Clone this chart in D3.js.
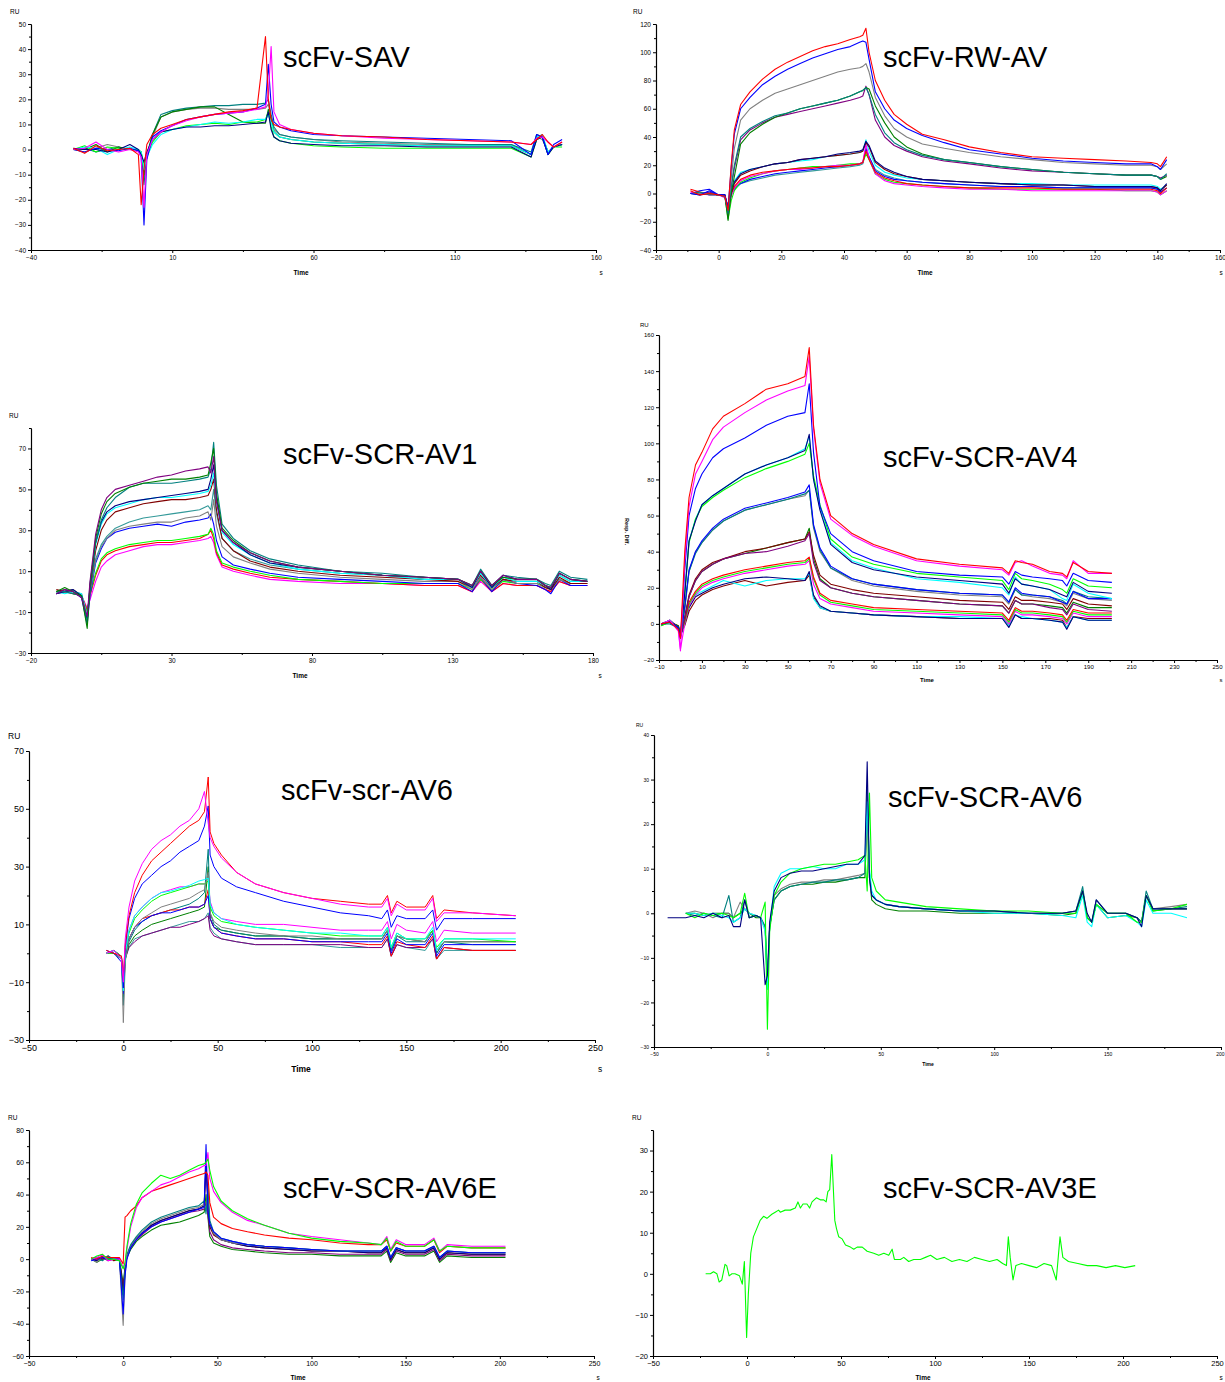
<!DOCTYPE html>
<html>
<head>
<meta charset="utf-8">
<script src="https://cdn.jsdelivr.net/npm/d3@7"></script>
<style>
  body { margin: 0; background: #fff; }
  text { font-family: Arial, "Liberation Sans", sans-serif; }
</style>
</head>
<body>
<svg id="chart" width="1225" height="1382"></svg>
<script>
var RED = "#ff0000", MAGENTA = "#ff00ff", BLUE = "#0000ff", NAVY = "#000080",
    CYAN = "#00ffff", LIME = "#00ff00", DKGREEN = "#008000", GRAY = "#808080",
    TEAL = "#008080", TEAL2 = "#339999", PURPLE = "#800080", MAROON = "#800000";

// ---------- scFv-SAV ----------
var savTime = [-25,-21,-17,-13,-9,-5,-2,-1,0,1,3,6,10,15,20,25,30,35,40,43,44,45,46,48,52,60,70,85,100,115,130,137,139,141,143,145,148];
var savRed     = [0.5,-1.5,1.5,-0.5,0,0.5,-2,-22,-8,2,6,8.5,10,12,13,14,15,15.5,16.5,45,20,12,10,9,8,6.5,5.5,5,4,3.5,3,2,4,6,3,1,3];
var savMagenta = [0,0.5,3,0,-1,0,-1,-3,-23,-2,4,7,9.5,11.5,13,14,14.5,15,16,17,22,41,15,10,8,6.5,5.5,4.5,4,3.5,3,2,4.5,5,3,1,3];
var savBlue    = [0,-1,0.5,0,-0.5,0.5,-0.5,-3,-30,-4,5,7.5,9.5,12,13,14,14.5,15,16.5,18,34,18,11,9,7.5,6,5.5,5,4.5,4,3.5,-2,6,5,-2,2,4];
var savNavy    = [0.5,0,0,-1,0,2,0,-2,-5,-1,4,7,8,9,9,9.5,9.5,10,10.5,11,15,8,5,3.5,2.5,2,1.5,1.5,1,1,1,-3,4,5,-2,1,2];
var savCyan    = [0,1,0.5,-2,0,1,0,-1,-8,-3,2,6,8,9,10,11,10.5,11,12,12,14,11,7,5,4,3,2.5,2,1.5,1.5,1.5,-2,5,6,-1,1,2];
var savLime    = [0,1.5,-1,1,0.5,0,0,-1,-6,-3,3,7,8,9.5,10,10.5,10,11,11,12,15,9,5,3.5,2.5,1.5,1,0.5,0.5,0.5,0.5,-3,4,5,-2,1,1];
var savDkGreen = [0,0,2,-1,1,0,0,-1,-10,-3,6,13,15,16,17,17,14,11,10.5,10.5,16,12,7,5,4,3,2.5,2,1.5,1.5,1.5,-2,5,5,-1,1,2];
var savGray    = [0,-1,0.5,2,1,0,0,-2,-12,-3,5,13,15,16,16.5,16.5,16,16,16,16.5,18,13,8,6,5,4,3,2.5,2,2,2,-2,5,4,-1,1,2];
var savTeal    = [0,0.5,-1,0,1,0,-0.5,-1,-14,-2,6,14,15.5,16.5,17,17.5,17.5,18,18,18.5,20,14,9,6,5,4,3.5,3,2.5,2,2,-1,6,5,-1,1,2];
var savXTicks = [-40,10,60,110,160], savXMinor = [-15,35,85,135];
var savYTicks = [-40,-30,-20,-10,0,10,20,30,40,50], savYMinor = [-35,-25,-15,-5,5,15,25,35,45];

// ---------- scFv-RW-AV ----------
var rwTime = [-9,-6,-3,0,2,3,4,5,7,10,14,18,22,26,30,34,38,42,45,46,47,48,50,53,56,60,65,72,80,90,100,110,120,130,138,140,141,143];
var rwRed     = [2,-1,0,-1,-2,-12,20,45,63,72,81,88,93,97,101,104,106,109,111,112,117,100,80,66,56,49,42,38,33,29,26,25,24,23,22,21,19,26];
var rwBlue    = [0,-1,2,-1,-1,-10,18,42,60,68,77,83,88,92,96,99,102,104,107,108,107,95,72,60,52,46,41,36,31,28,25,23,22,21,21,19,17,24];
var rwGray    = [0,0,0,-1,-2,-11,10,32,52,60,66,71,74,77,80,83,86,88,89,90,92,86,68,55,46,40,35,32,29,26,24,22,21,20,20,19,17,21];
var rwTeal    = [0,1,-1,-1,-2,-14,5,20,40,46,51,55,57,60,62,64,66,69,72,73,75,70,56,43,36,31,27,24,22,19,17,15,14,13,13,12,10,14];
var rwDkGreen = [0,0,0,-1,-2,-19,0,12,35,43,49,54,57,60,62,64,66,69,72,73,75,74,62,50,40,33,28,24,22,19,17,15,14,13,13,12,10,12];
var rwPurple  = [0,0,1,-1,-2,-15,4,18,38,45,50,54,56,58,60,62,64,66,68,69,76,70,52,40,34,30,26,23,21,18,16,15,14,13,13,12,11,13];
var rwNavy    = [0,-1,0,-1,-1,-13,2,8,14,17,19,21,22,24,25,26,28,29,30,31,37,34,23,18,15,12,10,9,8,7,6,6,5,5,5,4,2,7];
var rwMaroon  = [0,0,0,-1,-1,-14,0,7,13,16,19,21,22,24,25,26,27,28,29,30,36,33,22,17,14,12,10,9,8,7,6,6,5,5,5,4,2,6];
var rwCyan    = [0,0,1,-1,-2,-12,3,9,15,17,19,21,22,23,24,26,27,28,29,30,38,30,20,15,13,11,10,9,8,7,7,6,6,6,6,5,3,6];
var rwRedLow  = [3,1,0,-1,-2,-10,0,5,10,13,15,16,17,18,18,19,19,20,21,22,30,24,15,11,9,7,6,5,4,4,4,3,3,3,3,2,0,4];
var rwMagenta = [1,0,-1,-1,-3,-13,-2,4,9,12,14,16,17,17,18,19,20,20,21,22,35,25,14,9,7,6,5,4,3,3,2,2,2,2,2,1,-1,2];
var rwLime    = [0,0,0,-1,-2,-18,-5,2,8,11,14,16,17,18,19,19,20,21,21,22,28,24,14,10,8,7,6,5,4,3,3,3,3,2,2,1,-1,2];
var rwBlueLow = [0,2,3,-1,-2,-10,-1,3,7,10,12,14,15,16,17,18,19,20,21,22,32,26,16,12,10,9,8,7,6,5,5,4,4,4,4,3,1,4];
var rwTealLow = [0,0,0,-1,-2,-9,0,4,7,9,11,13,14,15,16,17,18,19,20,21,30,26,17,13,11,9,8,7,6,5,5,4,4,4,4,3,1,4];
var rwXTicks = [-20,0,20,40,60,80,100,120,140,160], rwXMinor = [-10,10,30,50,70,90,110,130,150];
var rwYTicks = [-40,-20,0,20,40,60,80,100,120], rwYMinor = [-30,-10,10,30,50,70,90,110];

// ---------- scFv-SCR-AV1 ----------
var av1Time = [-11,-8,-5,-2,0,1,3,5,7,10,15,20,25,30,35,40,43,44,45,46,48,52,58,65,75,90,105,120,132,137,140,144,148,153,160,163,165,168,172,178];
var av1Purple  = [-1,1,0,-3,-12,5,28,40,46,50,52,54,56,57,59,60,61,58,66,44,30,24,19,15,12,10,8,7,6,3,10,3,8,6,6,3,2,9,6,5];
var av1DkGreen = [0,2,0,-2,-18,3,26,38,44,48,51,53,54,55,55,56,57,63,70,48,31,25,19,15,12,10,8,7,6,3,10,3,7,6,6,3,2,9,6,5];
var av1Teal    = [0,0,-1,-2,-15,4,24,35,41,46,51,53,53,53,54,55,56,60,73,52,33,26,20,16,13,10,9,7,6,3,11,3,8,7,6,4,3,10,7,6];
var av1Navy    = [-1,0,1,-2,-14,2,24,34,39,42,44,45,46,47,48,49,50,55,62,46,30,24,18,14,12,10,8,7,6,2,10,2,8,6,6,3,1,9,6,5];
var av1Cyan    = [0,-1,0,-1,-12,2,23,33,38,41,43,45,46,46,47,48,49,52,58,44,29,23,18,14,11,9,8,6,6,2,9,2,7,5,5,3,2,8,5,5];
var av1Maroon  = [1,0,-1,-2,-13,1,20,30,35,39,41,43,44,45,45,46,47,50,55,40,26,20,15,12,10,8,7,6,5,2,8,2,6,5,5,2,1,7,4,4];
var av1Teal2   = [-1,0,1,-2,-14,0,16,23,27,31,34,36,37,38,39,40,42,40,50,38,26,20,16,13,11,9,8,6,6,2,9,2,7,6,6,3,2,8,5,5];
var av1Gray    = [0,1,0,-1,-13,0,15,22,26,30,32,33,34,34,36,37,39,35,45,32,22,17,14,11,9,7,6,5,5,1,7,1,6,4,4,2,1,6,4,4];
var av1Blue    = [-1,1,0,-3,-16,-2,14,21,26,29,31,32,33,32,34,35,36,38,33,25,17,13,11,9,7,6,5,4,4,0,7,0,6,4,3,1,-1,6,3,3];
var av1Lime    = [0,1,-1,-2,-10,-1,9,16,19,21,23,24,25,25,26,27,28,31,28,20,14,12,10,8,6,5,4,4,4,1,6,1,5,4,4,2,1,6,4,4];
var av1Red     = [0,0,1,-2,-9,-2,8,15,18,20,22,23,24,24,25,26,28,30,26,19,13,11,9,7,6,5,4,3,3,0,6,0,4,3,3,1,0,5,3,3];
var av1Magenta = [-1,0,0,-2,-8,-4,5,12,15,18,20,22,23,23,24,25,26,27,24,18,12,10,8,6,5,4,4,3,3,0,5,0,4,3,3,1,0,5,3,3];
var av1XTicks = [-20,30,80,130,180], av1XMinor = [5,55,105,155];
var av1YTicks = [-30,-10,10,30,50,70], av1YMinor = [-20,0,20,40,60,80];

// ---------- scFv-SCR-AV4 ----------
var av4Time = [-9,-5,-1,0,2,4,7,10,15,20,30,40,50,58,60,62,65,70,80,90,110,130,150,153,156,159,164,172,178,180,183,190,201];
var av4Red      = [0,1,-3,-8,40,70,88,95,108,115,122,130,133,137,153,110,80,60,50,44,36,33,31,28,35,34,33,29,28,26,34,29,28];
var av4Magenta  = [0,2,-4,-15,35,65,83,90,102,109,117,124,129,132,148,108,78,58,49,43,35,32,30,27,34,35,32,28,27,25,35,28,28];
var av4Blue     = [0,1,-2,-8,30,60,75,83,92,97,103,110,115,117,133,95,65,50,40,35,29,27,26,22,29,27,26,25,24,21,28,24,23];
var av4Cyan     = [0,2,-3,-7,18,46,58,66,71,75,83,88,92,97,104,80,64,45,35,31,25,23,20,16,26,22,21,19,14,13,22,17,14];
var av4Lime     = [-1,1,-2,-6,16,45,58,65,70,74,81,86,90,94,100,82,66,47,37,33,28,26,24,19,28,25,24,22,19,17,25,21,20];
var av4Navy     = [0,1,-2,-7,17,46,57,66,71,75,83,88,92,96,105,80,63,44,34,30,26,24,22,17,25,22,21,19,16,15,23,18,17];
var av4Blue2    = [0,1,-3,-8,10,30,40,46,53,58,64,67,70,73,77,55,42,32,25,22,19,17,16,12,20,17,16,15,12,11,18,14,14];
var av4Teal     = [0,0,-2,-6,8,29,39,45,52,57,63,66,69,72,74,54,41,31,25,22,19,17,16,12,19,16,16,15,13,11,18,15,14];
var av4Gray     = [-1,1,-2,-7,9,29,40,45,52,57,63,66,69,71,74,53,40,31,24,21,18,16,15,11,19,16,15,14,12,10,17,14,13];
var av4Purple   = [0,2,-2,-7,3,15,24,29,33,36,39,40,43,46,50,34,24,20,17,15,13,11,10,6,13,11,11,9,8,5,11,8,7];
var av4Maroon   = [0,2,-2,-6,4,16,25,30,34,36,40,42,45,47,51,38,27,22,19,17,15,13,12,8,15,13,13,12,11,8,14,11,10];
var av4DkGreen  = [0,1,-1,-6,3,15,24,29,33,36,39,42,45,47,53,36,25,20,17,15,13,11,10,6,13,11,11,10,9,6,12,9,9];
var av4Red2     = [0,1,-2,-6,2,12,18,22,25,27,30,32,34,35,37,26,17,13,11,9,8,7,6,2,9,7,7,6,5,2,8,6,6];
var av4Lime2    = [0,1,-2,-6,1,11,17,21,24,26,29,31,33,34,36,25,16,12,10,8,7,6,5,1,8,6,6,5,4,1,7,5,5];
var av4Magenta2 = [0,2,-3,-14,0,10,16,20,23,25,28,30,32,33,35,22,14,11,9,7,6,5,4,0,7,5,5,4,3,0,6,4,4];
var av4Navy2    = [0,1,-2,-7,0,9,15,17,20,22,25,26,25,24,29,16,10,7,6,5,4,3,3,-2,5,3,3,2,1,-3,4,2,2];
var av4Cyan2    = [0,2,-2,-6,1,10,16,18,21,24,21,24,25,25,28,14,9,7,6,5,4,4,3,-1,5,4,3,2,1,-2,4,2,2];
var av4Maroon2  = [0,1,-1,-5,-1,7,13,16,19,21,24,21,23,24,27,15,9,7,6,5,4,3,3,-1,5,3,3,3,2,-2,4,3,3];
var av4XTicks = [-10,10,30,50,70,90,110,130,150,170,190,210,230,250];
var av4XMinor = [0,20,40,60,80,100,120,140,160,180,200,220,240];
var av4YTicks = [-20,0,20,40,60,80,100,120,140,160], av4YMinor = [-10,10,30,50,70,90,110,130,150];

// ---------- scFv-scr-AV6 ----------
var scrTime = [-9,-5,-1,0,1,3,6,10,15,20,25,30,35,40,43,45,46,48,52,60,70,85,100,115,130,137,140,142,145,150,160,164,166,170,185,208];
var scrMagenta  = [0,1,-2,-10,5,16,25,31,36,39,41,44,46,50,56,45,40,37,33,28,24,21,19,17,16,16,19,13,17,15,15,19,11,14,14,13];
var scrRed      = [1,0,-1,-8,3,13,21,27,32,35,38,41,44,46,49,61,42,38,34,28,24,21,19,18,17,17,20,14,18,16,16,20,12,15,14,13];
var scrBlue     = [1,0,-3,-12,2,12,19,24,27,30,32,35,37,39,44,51,34,30,26,23,21,18,16,14,13,12,15,9,13,12,12,15,8,12,12,12];
var scrCyan     = [0,1,-2,-13,0,8,13,16,19,21,21.5,22.5,23.5,25,25.5,26,17,14,12,10,9,8,7,7,6,6,9,2,7,5,5,9,1,5,5,5];
var scrLime     = [0,0,-2,-12,0,7,12,15,18,20,21,22,23,24,24,25,16,13,11,10,9,8,7,6,6,6,9,2,7,5,5,8,2,5,5,4];
var scrMagenta2 = [0,0,-2,-11,0,8,13,16,19,21,22,23,23,24,24,25,18,14,12,11,10,10,9,8,8,8,11,5,10,8,7,11,4,8,7,7];
var scrGray     = [0,1,-1,-24,-3,5,9,12,14,16,17,18,19,21,22,28,14,11,9,8,7,6,6,5,5,5,8,2,6,5,4,8,1,4,4,4];
var scrBlue2    = [0,1,-2,-14,-1,5,9,11,13,14,14,15,16,16,17,20,12,9,7,6,5,5,4,4,4,4,7,0,5,3,3,7,-1,3,3,3];
var scrRed2     = [0,0,-1,-10,-1,5,9,12,13,14,15,15,16,16,17,22,12,9,7,6,5,5,4,4,3,3,6,-1,4,3,2,6,-2,2,1,1];
var scrTeal     = [0,0,-2,-18,-2,4,8,11,13,14,15,16,17,19,21,36,14,10,8,7,6,6,5,5,5,5,8,1,6,4,4,8,0,4,3,3];
var scrDkGreen  = [0,1,-1,-15,-2,3,6,8,10,11,12,13,14,15,16,30,12,9,8,7,6,6,5,5,5,5,8,1,6,5,4,8,0,4,4,4];
var scrPurple   = [0,0,-2,-9,-2,2,4,6,7,8,9,9,10,11,12,13,8,6,5,4,3,3,3,3,2,2,5,-1,3,2,2,5,-2,2,1,1];
var scrTeal2    = [0,1,-1,-8,-1,2,5,6,7,8,9,10,11,11,12,14,9,7,5,4,3,3,3,2,2,2,5,-1,3,2,1,5,-2,1,1,1];
var scrXTicks = [-50,0,50,100,150,200,250], scrXMinor = [-25,25,75,125,175,225];
var scrYTicks = [-30,-10,10,30,50,70], scrYMinor = [-20,0,20,40,60];

// ---------- scFv-SCR-AV6 ----------
var av6Time = [-44,-40,-36,-32,-28,-24,-20,-17,-15,-12,-10,-8,-5,-3,-1,0,1,3,6,10,15,20,25,30,35,40,43,44,45,46,48,52,58,70,85,100,115,130,136,139,141,143,145,150,158,163,165,167,170,178,185];
var av6Navy    = [-1,-1,-1,-0.5,-1,0,-1,-0.5,-3,-3,3,-1,-0.5,-1,-16,-14,-2,5,8,9,9.5,9.5,10,10.5,11,11,13,34,8,4,3,2,1.5,1,0.5,0.5,0,0,0.5,5,0,-2,3,0,0,-1,-3,4,1,1,1];
var av6Lime    = [null,null,0,-1,0,-0.5,0,-0.5,-1,0,4.5,-1,-0.5,-1,2.5,-26,-4,4,7,9,10,10.5,11,11,11.5,12,13,5,27,8,5,3,2.5,1.5,1,0.5,0.5,0,0,5,-1,-2,2,0,0,-2,-2,4,0.5,1,2];
var av6Cyan    = [null,null,0,0,-0.5,0,-0.5,-1,-2,-1,1,0,-0.5,-1,-4,-17,-3,6,9,10,10,10.5,10,10,11,11,12,25,10,5,3,2,1.5,1,0.5,0,0,-0.5,-1,4,-2,-3,2,-1,-0.5,-2,-3,3,0,0,-1];
var av6Gray    = [null,null,0,0.5,0,-1,0,0,-1,2.5,1,0,-0.5,-1,-3,-15,-3,4,5.5,6.5,7,7,7.5,7.5,8,8.5,9,24,9,4,3,2,1.5,1,0.5,0.5,0,0,0.5,5,-1,-2,2,0,0,-1,-2,4,1,1.5,2];
var av6Teal    = [null,null,0,-0.5,0,-0.5,-1,4,-2,-1,3,-1,-0.5,-1,-3,-17,-3,3,5,6,6.5,7,7,7.5,7.5,8,9,28,9,4,3,2,1.5,1,0.5,0.5,0,0,0.5,6,-1,-2,3,0,0,-1,-2,5,1,1,1.5];
var av6DkGreen = [null,null,0,0,-0.5,0,0,0,-1,0,1,0,-1,-1,-3,-15,-3,3,5,6,6.5,6.5,7,7,7.5,8,8,22,8,3,2,1,0.5,0.5,0,0,0,-0.5,0,5,-1,-2,2,-1,-0.5,-1,-2,4,0.5,1,1];
var av6XTicks = [-50,0,50,100,150,200], av6XMinor = [-25,25,75,125,175];
var av6YTicks = [-30,-20,-10,0,10,20,30,40], av6YMinor = [-25,-15,-5,5,15,25,35];

// ---------- scFv-SCR-AV6E ----------
var av6eTime = [-17,-14,-11,-8,-5,-2,0,1,2,4,7,10,15,20,25,30,35,40,43,44,45,46,48,52,58,66,75,88,100,115,130,137,140,142,145,150,160,165,168,172,185,203];
var av6eGreen   = [0,2,3,0,0,-1,-6,-2,8,22,34,41,47,52,50,52,55,58,59,60,62,55,45,36,30,25,21,16,13,11,10,9,13,5,11,8,8,12,5,8,7,7];
var av6eMagenta = [0,1,3,-1,0,0,-5,-3,6,20,32,38,42,46,48,51,54,56,58,58,66,50,42,35,29,24,21,16,14,12,10,9,14,6,12,9,9,13,5,9,8,8];
var av6eRed     = [1,0,2,1,1,1,-3,26,27,30,33,38,42,44,46,48,50,52,53,54,52,35,26,22,19,17,15,13,12,10,9,9,12,5,10,8,8,12,4,8,7,7];
var av6eTeal    = [0,1,-1,2,0,-1,-25,-8,3,9,14,18,23,26,28,30,32,33,36,28,45,24,17,13,11,9,8,7,6,5,5,5,8,1,7,5,5,8,1,5,4,4];
var av6eGray    = [0,-2,2,1,0,0,-41,-10,2,8,13,17,22,25,27,29,31,32,34,30,44,22,16,12,10,9,8,7,6,5,5,5,8,1,7,5,5,8,1,5,4,4];
var av6eMaroon  = [0,1,0,2,-1,0,-20,-8,2,8,13,16,21,24,26,28,30,31,33,58,36,20,15,12,10,8,7,6,5,5,4,4,7,0,6,4,4,7,0,4,3,3];
var av6eNavy    = [0,-1,2,0,0,0,-22,-8,2,8,13,16,21,24,26,28,30,31,33,60,35,21,16,12,10,8,7,6,5,5,4,4,7,0,6,4,4,7,0,4,3,3];
var av6eBlue    = [-1,0,1,0,1,0,-34,-10,0,7,12,16,20,23,25,27,29,31,32,71,30,22,17,13,11,9,8,7,6,5,5,5,8,1,7,5,5,8,1,5,4,4];
var av6ePurple  = [0,-1,1,-1,0,0,-18,-6,2,7,12,15,20,23,25,27,29,30,31,35,28,17,12,9,7,6,5,4,4,3,3,3,6,-1,5,3,3,6,-1,3,2,2];
var av6eDkGreen = [0,-2,0,1,0,0,-15,-5,1,6,11,14,18,21,22,23,25,27,29,40,26,14,10,8,6,5,4,3,3,2,2,2,5,-2,4,2,2,5,-2,2,1,1];
var av6eXTicks = [-50,0,50,100,150,200,250], av6eXMinor = [-25,25,75,125,175,225];
var av6eYTicks = [-60,-40,-20,0,20,40,60,80], av6eYMinor = [-50,-30,-10,10,30,50,70];

// ---------- scFv-SCR-AV3E ----------
var av3eTime = [-22,-19.5,-17.8,-16,-14.8,-13.4,-11.7,-10.8,-9.5,-8,-6.4,-4,-2.5,-1.4,-0.2,0.7,2,3.4,5.2,7,8.8,10.6,13.2,15,16.8,17.7,20.3,23,25.7,27.1,28.4,29.8,31.9,33.3,34.6,36.9,39,40.8,42.1,43,44,45.1,46.7,47.6,48.8,50.6,52.4,55,56.8,58.6,61.3,63.9,67.4,70.1,72.8,75.4,77.2,78.4,81.6,83.4,86,88.7,92.2,94.9,97.6,101,105,109,113,117,121,125,129,133,136,138,139,140,141.5,143,146,150,154,158,162,164.5,166.5,168,171,176,181,186,191,196,201,206.5];
var av3eGreen = [0,0,0.5,0,-2,-1.5,2.3,2,-0.5,0,0,-0.5,-2.5,3,-15.5,-5,5,9,11,13,14,13.5,14.5,15,15.5,15,15.5,15.5,16,17.5,16,17,17,16,17.5,18.5,18,18,17.5,20,20.5,29,13,11,9,8.5,7,6.5,6,6.5,6.5,5.5,5,4.5,5,4.5,6,3.5,3.5,4,3,3.5,3.5,4,4.5,3.5,4,3,3.5,3,4,3.5,3,3.5,2.5,2,9,4,-1.5,2,2.5,2,1.5,2.5,2,-1.5,9,4,3,2.5,2,2,1.5,2,1.5,2];
var av3eXTicks = [-50,0,50,100,150,200,250], av3eXMinor = [-25,25,75,125,175,225];
var av3eYTicks = [-20,-10,0,10,20,30], av3eYMinor = [-15,-5,5,15,25,35];

var svg = d3.select("#chart");

function drawPanel(p) {
  var x = d3.scaleLinear().domain(p.xDomain).range([p.left, p.right]);
  var y = d3.scaleLinear().domain(p.yDomain).range([p.bottom, p.top]);
  var g = svg.append("g");

  function style(sel) {
    sel.attr("font-size", p.fs).attr("font-family", "Arial, 'Liberation Sans', sans-serif");
    sel.selectAll(".domain").attr("stroke", "#000").attr("stroke-width", 1.1);
    sel.selectAll(".tick line").attr("stroke", "#000");
    sel.selectAll(".tick text").attr("fill", "#000");
  }

  // minor ticks first, then major with labels
  g.append("g").attr("transform", "translate(0," + p.bottom + ")")
    .call(d3.axisBottom(x).tickValues(p.xMinor).tickSize(2).tickSizeOuter(0).tickFormat(""))
    .call(style);
  g.append("g").attr("transform", "translate(" + p.left + ",0)")
    .call(d3.axisLeft(y).tickValues(p.yMinor).tickSize(2).tickSizeOuter(0).tickFormat(""))
    .call(style);
  var xg = g.append("g").attr("transform", "translate(0," + p.bottom + ")")
    .call(d3.axisBottom(x).tickValues(p.xTicks).tickSize(3).tickSizeOuter(0).tickPadding(2).tickFormat(d3.format("d")))
    .call(style);
  // the last label sits on the page edge: keep it inside
  if (p.lastLabelEnd) {
    xg.selectAll(".tick text").filter(function(d, i, n) { return i == n.length - 1; })
      .attr("text-anchor", "end").attr("dx", "0.6em");
  }
  g.append("g").attr("transform", "translate(" + p.left + ",0)")
    .call(d3.axisLeft(y).tickValues(p.yTicks).tickSize(3).tickSizeOuter(0).tickPadding(2).tickFormat(d3.format("d")))
    .call(style);

  var line = d3.line()
    .defined(function(d) { return d[1] != null; })
    .x(function(d) { return x(d[0]); })
    .y(function(d) { return y(d[1]); });

  g.append("g").selectAll("path")
    .data(p.series)
    .enter().append("path")
    .attr("fill", "none")
    .attr("stroke", function(s) { return s.color; })
    .attr("stroke-width", p.lw || 1.1)
    .attr("stroke-linejoin", "round")
    .attr("d", function(s) {
      return line(p.time.map(function(t, i) { return [t, s.values[i]]; }));
    });

  g.append("text").attr("x", p.ru[0]).attr("y", p.ru[1])
    .attr("font-size", p.lfs).text("RU");
  g.append("text").attr("x", p.timeXY[0]).attr("y", p.timeXY[1])
    .attr("text-anchor", "middle").attr("font-weight", "bold")
    .attr("font-size", p.lfs).text("Time");
  if (p.sXY) {
    g.append("text").attr("x", p.sXY[0]).attr("y", p.sXY[1])
      .attr("font-size", p.lfs).attr("text-anchor", "middle").text("s");
  }
  g.append("text").attr("x", p.titleXY[0]).attr("y", p.titleXY[1])
    .attr("font-size", 29).attr("fill", "#000").text(p.title);
}

drawPanel({
  title: "scFv-SAV", titleXY: [283, 67],
  left: 31, right: 596, top: 24, bottom: 250,
  xDomain: [-40, 160], yDomain: [-40, 50],
  xTicks: savXTicks, xMinor: savXMinor, yTicks: savYTicks, yMinor: savYMinor,
  fs: 6.5, lfs: 6.5, ru: [10, 14], timeXY: [301, 275], sXY: [601, 275],
  time: savTime,
  series: [
    {color: GRAY, values: savGray}, {color: TEAL, values: savTeal}, {color: DKGREEN, values: savDkGreen},
    {color: LIME, values: savLime}, {color: CYAN, values: savCyan}, {color: NAVY, values: savNavy},
    {color: BLUE, values: savBlue}, {color: MAGENTA, values: savMagenta}, {color: RED, values: savRed}
  ]
});

drawPanel({
  title: "scFv-RW-AV", titleXY: [883, 67],
  left: 656, right: 1220, top: 24, bottom: 250,
  xDomain: [-20, 160], yDomain: [-40, 120],
  xTicks: rwXTicks, xMinor: rwXMinor, yTicks: rwYTicks, yMinor: rwYMinor,
  fs: 6.5, lfs: 6.5, ru: [633, 14], timeXY: [925, 275], sXY: [1221, 275],
  time: rwTime,
  series: [
    {color: TEAL2, values: rwTealLow}, {color: BLUE, values: rwBlueLow}, {color: LIME, values: rwLime},
    {color: MAGENTA, values: rwMagenta}, {color: RED, values: rwRedLow}, {color: CYAN, values: rwCyan},
    {color: MAROON, values: rwMaroon}, {color: NAVY, values: rwNavy}, {color: PURPLE, values: rwPurple},
    {color: DKGREEN, values: rwDkGreen}, {color: TEAL, values: rwTeal}, {color: GRAY, values: rwGray},
    {color: BLUE, values: rwBlue}, {color: RED, values: rwRed}
  ]
});

drawPanel({
  title: "scFv-SCR-AV1", titleXY: [283, 464],
  left: 31, right: 593, top: 428, bottom: 653,
  xDomain: [-20, 180], yDomain: [-30, 80],
  xTicks: av1XTicks, xMinor: av1XMinor, yTicks: av1YTicks, yMinor: av1YMinor,
  fs: 6.5, lfs: 6.5, ru: [9, 418], timeXY: [300, 678], sXY: [600, 678],
  time: av1Time,
  series: [
    {color: MAGENTA, values: av1Magenta}, {color: RED, values: av1Red}, {color: LIME, values: av1Lime},
    {color: BLUE, values: av1Blue}, {color: GRAY, values: av1Gray}, {color: TEAL2, values: av1Teal2},
    {color: MAROON, values: av1Maroon}, {color: CYAN, values: av1Cyan}, {color: NAVY, values: av1Navy},
    {color: TEAL, values: av1Teal}, {color: DKGREEN, values: av1DkGreen}, {color: PURPLE, values: av1Purple}
  ]
});

drawPanel({
  title: "scFv-SCR-AV4", titleXY: [883, 467],
  left: 659, right: 1217, top: 335, bottom: 660,
  xDomain: [-10, 250], yDomain: [-20, 160],
  xTicks: av4XTicks, xMinor: av4XMinor, yTicks: av4YTicks, yMinor: av4YMinor,
  fs: 6, lfs: 6, ru: [640, 327], timeXY: [927, 682], sXY: [1221, 682],
  time: av4Time,
  series: [
    {color: MAROON, values: av4Maroon2}, {color: CYAN, values: av4Cyan2}, {color: NAVY, values: av4Navy2},
    {color: MAGENTA, values: av4Magenta2}, {color: LIME, values: av4Lime2}, {color: RED, values: av4Red2},
    {color: DKGREEN, values: av4DkGreen}, {color: MAROON, values: av4Maroon}, {color: PURPLE, values: av4Purple},
    {color: GRAY, values: av4Gray}, {color: TEAL, values: av4Teal}, {color: BLUE, values: av4Blue2},
    {color: CYAN, values: av4Cyan}, {color: LIME, values: av4Lime}, {color: NAVY, values: av4Navy},
    {color: BLUE, values: av4Blue}, {color: MAGENTA, values: av4Magenta}, {color: RED, values: av4Red}
  ]
});
svg.append("text")
  .attr("transform", "translate(625,518) rotate(90)")
  .attr("font-size", 5.5).attr("font-weight", "bold").text("Resp. Diff.");

drawPanel({
  title: "scFv-scr-AV6", titleXY: [281, 800],
  left: 29, right: 595, top: 751, bottom: 1040,
  xDomain: [-50, 250], yDomain: [-30, 70],
  xTicks: scrXTicks, xMinor: scrXMinor, yTicks: scrYTicks, yMinor: scrYMinor,
  fs: 9, lfs: 8.5, ru: [8, 739], timeXY: [301, 1072], sXY: [600, 1072], lw: 1,
  time: scrTime,
  series: [
    {color: TEAL2, values: scrTeal2}, {color: PURPLE, values: scrPurple}, {color: DKGREEN, values: scrDkGreen},
    {color: TEAL, values: scrTeal}, {color: RED, values: scrRed2}, {color: BLUE, values: scrBlue2},
    {color: GRAY, values: scrGray}, {color: MAGENTA, values: scrMagenta2}, {color: LIME, values: scrLime},
    {color: CYAN, values: scrCyan}, {color: BLUE, values: scrBlue}, {color: RED, values: scrRed},
    {color: MAGENTA, values: scrMagenta}
  ]
});

drawPanel({
  title: "scFv-SCR-AV6", titleXY: [888, 807],
  left: 654, right: 1221, top: 735, bottom: 1047,
  xDomain: [-50, 200], yDomain: [-30, 40],
  xTicks: av6XTicks, xMinor: av6XMinor, yTicks: av6YTicks, yMinor: av6YMinor,
  fs: 5, lfs: 5, ru: [636, 727], timeXY: [928, 1066], sXY: null, lastLabelEnd: true,
  time: av6Time,
  series: [
    {color: DKGREEN, values: av6DkGreen}, {color: GRAY, values: av6Gray}, {color: TEAL, values: av6Teal},
    {color: CYAN, values: av6Cyan}, {color: LIME, values: av6Lime}, {color: NAVY, values: av6Navy}
  ]
});

drawPanel({
  title: "scFv-SCR-AV6E", titleXY: [283, 1198],
  left: 29, right: 594, top: 1130, bottom: 1356,
  xDomain: [-50, 250], yDomain: [-60, 80],
  xTicks: av6eXTicks, xMinor: av6eXMinor, yTicks: av6eYTicks, yMinor: av6eYMinor,
  fs: 7, lfs: 6.5, ru: [8, 1120], timeXY: [298, 1380], sXY: [598, 1380],
  time: av6eTime,
  series: [
    {color: DKGREEN, values: av6eDkGreen}, {color: PURPLE, values: av6ePurple}, {color: MAROON, values: av6eMaroon},
    {color: NAVY, values: av6eNavy}, {color: GRAY, values: av6eGray}, {color: TEAL, values: av6eTeal},
    {color: BLUE, values: av6eBlue}, {color: RED, values: av6eRed}, {color: MAGENTA, values: av6eMagenta},
    {color: LIME, values: av6eGreen}
  ]
});

drawPanel({
  title: "scFv-SCR-AV3E", titleXY: [883, 1198],
  left: 653, right: 1217, top: 1130, bottom: 1356,
  xDomain: [-50, 250], yDomain: [-20, 35],
  xTicks: av3eXTicks, xMinor: av3eXMinor, yTicks: av3eYTicks, yMinor: av3eYMinor,
  fs: 7.5, lfs: 6.5, ru: [632, 1120], timeXY: [923, 1380], sXY: [1221, 1380],
  time: av3eTime,
  series: [{color: LIME, values: av3eGreen}]
});
</script>
</body>
</html>
